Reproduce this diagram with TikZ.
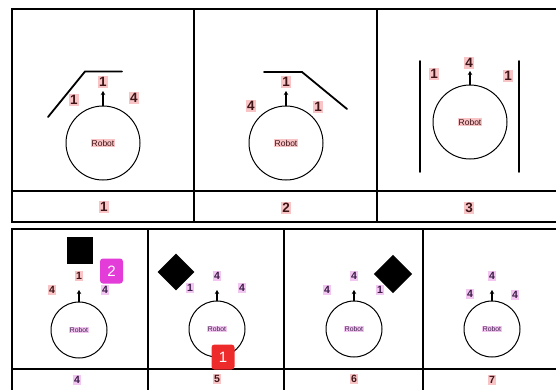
\documentclass[tikz,border=0pt]{standalone}
\usepackage{fontspec}
\setmainfont{Liberation Sans}
\usetikzlibrary{arrows.meta}
\definecolor{hlred}{HTML}{F8C4C6}
\definecolor{hlpurple}{HTML}{F3C6F2}
\definecolor{txred}{HTML}{3E1416}
\definecolor{txpurple}{HTML}{3A1C46}
\definecolor{badgemag}{HTML}{E43CD8}
\definecolor{badgered}{HTML}{EE2B2B}
\tikzset{
  frame/.style={line width=2pt, black},
  wall/.style={line width=1.8pt, black, line cap=round},
  bigbot/.style={circle, draw, line width=1pt, minimum size=74pt, inner sep=0pt},
  smallbot/.style={circle, draw, line width=1pt, minimum size=56pt, inner sep=0pt},
  heading/.style={-{Stealth[length=4pt,width=4.5pt]}, line width=1.4pt},
  lblA/.style={fill=hlred, text=txred, inner xsep=1pt, inner ysep=1.5pt, font=\fontsize{13.5}{13.5}\selectfont\bfseries},
  lblB/.style={fill=hlred, text=txred, inner xsep=0.8pt, inner ysep=1pt, font=\fontsize{10.5}{10.5}\selectfont\bfseries},
  lblC/.style={fill=hlpurple, text=txpurple, inner xsep=0.8pt, inner ysep=1pt, font=\fontsize{10.5}{10.5}\selectfont\bfseries},
  botA/.style={fill=hlred, text=txred, inner sep=1pt, font=\fontsize{8.5}{8.5}\selectfont},
  botB/.style={fill=hlpurple, text=txpurple, inner sep=0.8pt, font=\fontsize{6.8}{6.8}\selectfont},
  badge/.style={rounded corners=3pt, minimum width=23pt, minimum height=25pt, inner sep=0pt, text=white, font=\fontsize{15}{15}\selectfont},
  block/.style={fill=black, inner sep=0pt}
}
\begin{document}
\begin{tikzpicture}[x=1pt, y=-1pt]
\useasboundingbox (0,0) rectangle (556,389);
\clip (0,0) rectangle (556,389);

% ---------- upper table ----------
\draw[frame] (570,8.5) -- (12,8.5) -- (12,222) -- (570,222);
\draw[frame] (12,190.5) -- (570,190.5);
\draw[frame] (194,8.5) -- (194,222);
\draw[frame] (377,8.5) -- (377,222);

% case 1: wall ahead and to the left
\node[bigbot] (r1) at (103,143) {};
\node[botA] (r1t) at (103,143) {Robot};
\coordinate (h1) at (103,91);
\draw[heading] (r1.north) -- (h1);
\draw[wall] (48,117) -- (85,71.5) -- (122,71.5);
\node[lblA] (a1f) at (103,82) {1};
\node[lblA] (a1l) at (74,100) {1};
\node[lblA] (a1r) at (134,98) {4};
\node[lblA] (c1) at (104,207) {1};

% case 2: wall ahead and to the right
\node[bigbot] (r2) at (286,143) {};
\node[botA] (r2t) at (286,143) {Robot};
\coordinate (h2) at (286,91);
\draw[heading] (r2.north) -- (h2);
\draw[wall] (264,72) -- (302,72) -- (347,109);
\node[lblA] (a2f) at (286,82) {1};
\node[lblA] (a2l) at (251,106) {4};
\node[lblA] (a2r) at (318,107) {1};
\node[lblA] (c2) at (286,208) {2};

% case 3: corridor
\node[bigbot] (r3) at (470,122) {};
\node[botA] (r3t) at (470,122) {Robot};
\coordinate (h3) at (470,71);
\draw[heading] (r3.north) -- (h3);
\draw[wall] (420,61) -- (420,172);
\draw[wall] (519,61) -- (519,172);
\node[lblA] (a3f) at (469,63) {4};
\node[lblA] (a3l) at (434,74) {1};
\node[lblA] (a3r) at (508,76) {1};
\node[lblA] (c3) at (469,208) {3};

% ---------- lower table ----------
\draw[frame] (570,229) -- (12,229) -- (12,395);
\draw[frame] (12,368.5) -- (570,368.5);
\draw[frame] (148,229) -- (148,395);
\draw[frame] (284,229) -- (284,395);
\draw[frame] (423,229) -- (423,395);

% case 4: block straight ahead
\node[block, minimum width=26pt, minimum height=27pt] (o4) at (79.5,250) {};
\node[smallbot] (r4) at (79,330) {};
\node[botB] (r4t) at (79,330) {Robot};
\coordinate (h4) at (79,290);
\draw[heading] (r4.north) -- (h4);
\node[lblB] (a4f) at (79,276) {1};
\node[lblB] (a4l) at (52,290) {4};
\node[lblC] (a4r) at (105,290) {4};
\node[lblC] (c4) at (77,380) {4};
\node[badge, fill=badgemag] (b2) at (111.5,271) {2};

% case 5: block ahead on the left
\node[block, minimum size=26pt, rotate=45] (o5) at (176,272) {};
\node[smallbot] (r5) at (217,329) {};
\node[botB] (r5t) at (217,329) {Robot};
\coordinate (h5) at (217,290);
\draw[heading] (r5.north) -- (h5);
\node[lblC] (a5f) at (217,276) {4};
\node[lblC] (a5l) at (190,288) {1};
\node[lblC] (a5r) at (242,288) {4};
\node[lblB] (c5) at (217,379) {5};
\node[badge, fill=badgered] (b1) at (223,357) {1};

% case 6: block ahead on the right
\node[block, minimum size=27pt, rotate=45] (o6) at (393,274) {};
\node[smallbot] (r6) at (354,329) {};
\node[botB] (r6t) at (354,329) {Robot};
\coordinate (h6) at (354,290);
\draw[heading] (r6.north) -- (h6);
\node[lblC] (a6f) at (354,276) {4};
\node[lblC] (a6l) at (327,290) {4};
\node[lblC] (a6r) at (380,290) {1};
\node[lblB] (c6) at (354,379) {6};

% case 7: open space
\node[smallbot] (r7) at (492,329) {};
\node[botB] (r7t) at (492,329) {Robot};
\coordinate (h7) at (492,290);
\draw[heading] (r7.north) -- (h7);
\node[lblC] (a7f) at (492,276) {4};
\node[lblC] (a7l) at (470,294) {4};
\node[lblC] (a7r) at (515,295) {4};
\node[lblB] (c7) at (492,380) {7};
\end{tikzpicture}
\end{document}
